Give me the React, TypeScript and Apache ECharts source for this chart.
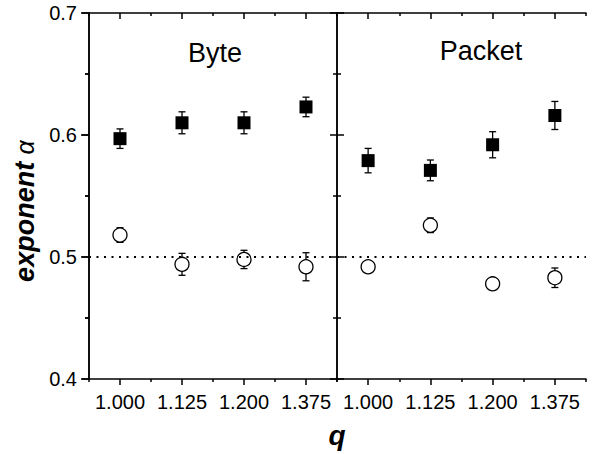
import React, { useEffect, useRef } from "react";
import * as echarts from "echarts";

const categories = ["1.000", "1.125", "1.200", "1.375"];
const byteSquare = [0.597, 0.610, 0.610, 0.623];
const byteSquareErr = [0.008, 0.009, 0.009, 0.008];
const byteCircle = [0.518, 0.494, 0.498, 0.492];
const byteCircleErr = [0.006, 0.009, 0.0075, 0.0115];
const packetSquare = [0.579, 0.571, 0.592, 0.616];
const packetSquareErr = [0.010, 0.0085, 0.0107, 0.0115];
const packetCircle = [0.492, 0.526, 0.478, 0.483];
const packetCircleErr = [0.004, 0.006, 0.004, 0.008];
const yTicks = [0.4, 0.5, 0.6, 0.7];

const FONT = "Liberation Sans";
const LW = 1.5;

function errData(vals: number[], errs: number[]) {
  return vals.map((v, i) => [i, v - errs[i], v + errs[i]]);
}

function renderErr(_params: any, api: any) {
  const x = api.value(0);
  const lo = api.coord([x, api.value(1)]);
  const hi = api.coord([x, api.value(2)]);
  const w = 3.5;
  const st = { stroke: "#000", lineWidth: 1.3 };
  return {
    type: "group",
    children: [
      { type: "line", shape: { x1: hi[0], y1: hi[1], x2: lo[0], y2: lo[1] }, style: st },
      { type: "line", shape: { x1: hi[0] - w, y1: hi[1], x2: hi[0] + w, y2: hi[1] }, style: st },
      { type: "line", shape: { x1: lo[0] - w, y1: lo[1], x2: lo[0] + w, y2: lo[1] }, style: st },
    ],
  };
}

export default function App() {
  const ref = useRef<HTMLDivElement>(null);
  useEffect(() => {
    if (!ref.current) return;
    const chart = echarts.init(ref.current, undefined, { renderer: "svg" });
    const grids = [
      { left: 89, top: 13, width: 248, height: 366 },
      { left: 337, top: 13, width: 249, height: 366 },
    ];
    const axisLine = { show: true, lineStyle: { color: "#000", width: LW } };
    const tickStyle = { color: "#000", width: LW };
    const xAxes: any[] = [];
    const yAxes: any[] = [];
    [0, 1].forEach((g) => {
      xAxes.push({
        type: "category",
        gridIndex: g,
        data: categories,
        position: "bottom",
        boundaryGap: true,
        axisLine,
        axisTick: { show: true, alignWithLabel: true, length: 6, lineStyle: tickStyle },
        axisLabel: { interval: 0, fontSize: 20, color: "#000", fontFamily: FONT, margin: 13 },
        splitLine: { show: false },
      });
      xAxes.push({
        type: "value",
        gridIndex: g,
        min: 0,
        max: 4,
        interval: 1,
        position: "bottom",
        axisLine: { show: false },
        axisTick: { show: true, length: 3, lineStyle: tickStyle },
        axisLabel: { show: false },
        splitLine: { show: false },
      });
      xAxes.push({
        type: "category",
        gridIndex: g,
        data: categories,
        position: "top",
        boundaryGap: true,
        axisLine,
        axisTick: { show: true, inside: true, alignWithLabel: true, length: 6, lineStyle: tickStyle },
        axisLabel: { show: false },
        splitLine: { show: false },
      });
      xAxes.push({
        type: "value",
        gridIndex: g,
        min: 0,
        max: 4,
        interval: 1,
        position: "top",
        axisLine: { show: false },
        axisTick: { show: true, inside: true, length: 3, lineStyle: tickStyle },
        axisLabel: { show: false },
        splitLine: { show: false },
      });
      const isOuterLeft = g === 0;
      ["left", "right"].forEach((pos) => {
        const labeled = isOuterLeft && pos === "left";
        yAxes.push({
          type: "value",
          gridIndex: g,
          position: pos,
          min: yTicks[0],
          max: yTicks[yTicks.length - 1],
          interval: 0.1,
          axisLine,
          axisTick: { show: true, inside: !labeled, length: labeled ? 8 : 7, lineStyle: tickStyle },
          minorTick: { show: true, splitNumber: 2, length: 4, lineStyle: tickStyle },
          axisLabel: labeled
            ? { show: true, fontSize: 20, color: "#000", fontFamily: FONT, margin: 12, formatter: (v: number) => v.toFixed(1) }
            : { show: false },
          splitLine: { show: false },
        });
      });
    });

    const mkSeries = (g: number, sq: number[], sqE: number[], ci: number[], ciE: number[]) => {
      const xi = g * 4;
      const yi = g * 2;
      return [
        { type: "custom", xAxisIndex: xi, yAxisIndex: yi, renderItem: renderErr, data: errData(sq, sqE), z: 2, silent: true },
        { type: "custom", xAxisIndex: xi, yAxisIndex: yi, renderItem: renderErr, data: errData(ci, ciE), z: 2, silent: true },
        {
          type: "scatter",
          xAxisIndex: xi,
          yAxisIndex: yi,
          symbol: "rect",
          symbolSize: 13,
          itemStyle: { color: "#000", opacity: 1 },
          data: sq.map((v, i) => [i, v]),
          z: 3,
          markLine: {
            silent: true,
            symbol: "none",
            label: { show: false },
            lineStyle: { color: "#000", type: [2, 5.5], width: 2 },
            data: [{ yAxis: 0.5 }],
          },
        },
        {
          type: "scatter",
          xAxisIndex: xi,
          yAxisIndex: yi,
          symbol: "circle",
          symbolSize: 14,
          itemStyle: { color: "#fff", borderColor: "#000", borderWidth: 1.3, opacity: 1 },
          data: ci.map((v, i) => [i, v]),
          z: 4,
        },
      ];
    };

    const txt = (text: string, x: number, y: number, size: number) => ({
      type: "text",
      x,
      y,
      style: {
        text,
        fontSize: size,
        fontFamily: FONT,
        fill: "#000",
        textAlign: "center",
        textVerticalAlign: "middle",
      },
    });

    chart.setOption({
      animation: false,
      grid: grids,
      xAxis: xAxes,
      yAxis: yAxes,
      series: [
        ...mkSeries(0, byteSquare, byteSquareErr, byteCircle, byteCircleErr),
        ...mkSeries(1, packetSquare, packetSquareErr, packetCircle, packetCircleErr),
      ],
      graphic: [
        txt("Byte", 215, 53, 27),
        txt("Packet", 481, 51, 27),
        {
          type: "text",
          x: 25,
          y: 211,
          rotation: Math.PI / 2,
          style: {
            text: "{a|exponent }{b|α}",
            rich: {
              a: { fontSize: 27, fontFamily: FONT, fontStyle: "italic", fontWeight: "bold", fill: "#000" },
              b: { fontSize: 25, fontFamily: FONT, fontStyle: "italic", fontWeight: "normal", fill: "#000" },
            },
            textAlign: "center",
            textVerticalAlign: "middle",
          },
        },
        { type: "text", x: 337, y: 435, style: { text: "q", fontSize: 28, fontFamily: FONT, fontStyle: "italic", fontWeight: "bold", fill: "#000", textAlign: "center", textVerticalAlign: "middle" } },
      ],
    });
    return () => chart.dispose();
  }, []);
  return <div ref={ref} style={{ position: "fixed", left: 0, top: 0, width: 599, height: 454, background: "#fff" }} />;
}
